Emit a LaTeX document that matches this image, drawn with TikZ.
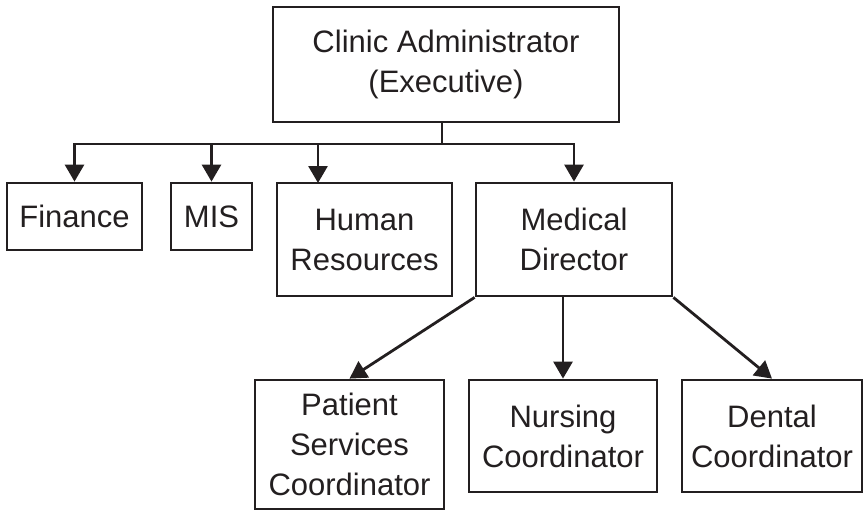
\documentclass[tikz,border=0pt]{standalone}
\usepackage{fontspec}
\setmainfont{Liberation Sans}
\usetikzlibrary{arrows.meta}
\definecolor{ink}{RGB}{35,31,32}
\tikzset{
  box/.style={draw=ink, line width=2.8pt, inner sep=0pt, align=center, text=ink,
    font=\fontsize{31}{40}\selectfont},
  arr/.style={draw=ink, line width=2.8pt, -{Triangle[length=17pt,width=19pt]}},
  ln/.style={draw=ink, line width=2.8pt}
}
\begin{document}
\begin{tikzpicture}[x=1pt,y=-1pt]
\useasboundingbox (0,0) rectangle (865,512);
\node[box, minimum width=346pt, minimum height=115pt] (Clinic) at (446,64.5) {Clinic Administrator\\(Executive)};
\node[box, minimum width=135pt, minimum height=67pt] (Finance) at (74.5,216.5) {Finance};
\node[box, minimum width=81pt, minimum height=67pt] (MIS) at (211.5,216.5) {MIS};
\node[box, minimum width=175pt, minimum height=113pt] (HR) at (364.5,239.5) {Human\\Resources};
\node[box, minimum width=196pt, minimum height=113pt] (MD) at (574,239.5) {Medical\\Director};
\node[box, minimum width=189pt, minimum height=129pt] (PS) at (349.5,444.5) {Patient\\Services\\Coordinator};
\node[box, minimum width=188pt, minimum height=112pt] (NC) at (563,436) {Nursing\\Coordinator};
\node[box, minimum width=180pt, minimum height=112pt] (DC) at (772,436) {Dental\\Coordinator};
\coordinate (busy) at (0,144);
\coordinate (stem) at (442,122);
\coordinate (HRin) at (318,183);
\draw[ln] (stem) -- (stem |- busy);
\draw[ln, line cap=rect] (Finance.north |- busy) -- (MD.north |- busy);
\draw[arr] (Finance.north |- busy) -- (Finance.north);
\draw[arr] (MIS.north |- busy) -- (MIS.north);
\draw[arr] (HRin |- busy) -- (HRin);
\draw[arr] (MD.north |- busy) -- (MD.north);
\draw[arr] (MD.south west) -- (PS.north);
\draw[arr] (NC.north |- MD.south) -- (NC.north);
\draw[arr] (MD.south east) -- (DC.north);
\end{tikzpicture}
\end{document}
